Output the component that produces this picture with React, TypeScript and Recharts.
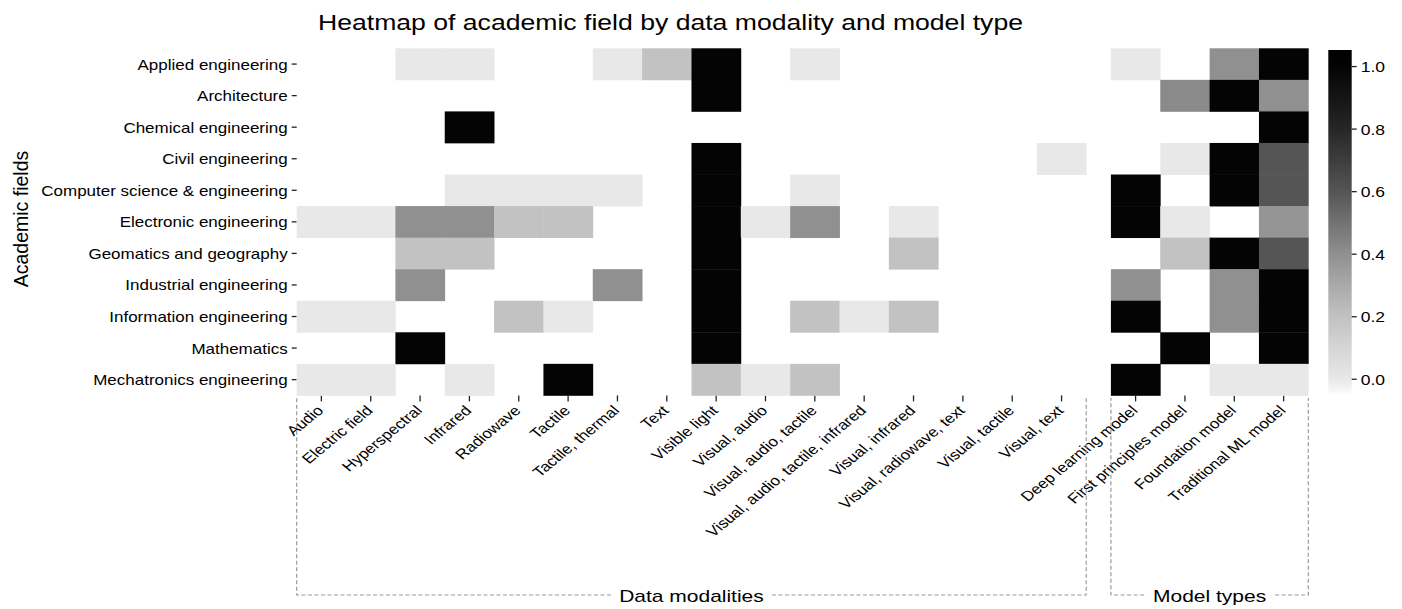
import { ScatterChart, Scatter, XAxis, YAxis } from 'recharts';

// academic fields (rows, top to bottom)
const fields = [
  'Applied engineering',
  'Architecture',
  'Chemical engineering',
  'Civil engineering',
  'Computer science & engineering',
  'Electronic engineering',
  'Geomatics and geography',
  'Industrial engineering',
  'Information engineering',
  'Mathematics',
  'Mechatronics engineering',
];

const modalities = [
  'Audio', 'Electric field', 'Hyperspectral', 'Infrared', 'Radiowave', 'Tactile',
  'Tactile, thermal', 'Text', 'Visible light', 'Visual, audio', 'Visual, audio, tactile',
  'Visual, audio, tactile, infrared', 'Visual, infrared', 'Visual, radiowave, text',
  'Visual, tactile', 'Visual, text',
];

const modelTypes = ['Deep learning model', 'First principles model', 'Foundation model', 'Traditional ML model'];

const N = null;

// one row per field, one value per modality (null = no data)
const modalityValues: (number | null)[][] = [
  [N, N, 0, 0, N, N, 0, 0.2, 1, N, 0, N, N, N, N, N],
  [N, N, N, N, N, N, N, N, 1, N, N, N, N, N, N, N],
  [N, N, N, 1, N, N, N, N, N, N, N, N, N, N, N, N],
  [N, N, N, N, N, N, N, N, 1, N, N, N, N, N, N, 0],
  [N, N, N, 0, 0, 0, 0, N, 1, N, 0, N, N, N, N, N],
  [0, 0, 0.4, 0.4, 0.2, 0.2, N, N, 1, 0, 0.4, N, 0, N, N, N],
  [N, N, 0.2, 0.2, N, N, N, N, 1, N, N, N, 0.2, N, N, N],
  [N, N, 0.4, N, N, N, 0.4, N, 1, N, N, N, N, N, N, N],
  [0, 0, N, N, 0.2, 0, N, N, 1, N, 0.2, 0, 0.2, N, N, N],
  [N, N, 1, N, N, N, N, N, 1, N, N, N, N, N, N, N],
  [0, 0, N, 0, N, 1, N, N, 0.2, 0, 0.2, N, N, N, N, N],
];

// one row per field, one value per model type
const modelValues: (number | null)[][] = [
  [0, N, 0.4, 1],
  [N, 0.42, 1, 0.4],
  [N, N, N, 1],
  [N, 0, 1, 0.6],
  [1, N, 1, 0.6],
  [1, 0, N, 0.38],
  [N, 0.2, 1, 0.6],
  [0.4, N, 0.4, 1],
  [1, N, 0.4, 1],
  [N, 1, N, 1],
  [1, N, 0, 0],
];

const colorbarTicks = [0, 0.2, 0.4, 0.6, 0.8, 1.0];
const V_MIN = -0.043;
const V_MAX = 1.053;

// gray colormap (value -> gray level)
const grayStops: [number, number][] = [
  [-0.045, 250], [0, 232], [0.2, 194], [0.4, 144], [0.6, 85], [0.8, 38], [1.0, 4], [1.06, 0],
];

const grayLevel = (v: number) => {
  if (v <= grayStops[0][0]) return grayStops[0][1];
  for (let i = 1; i < grayStops.length; i++) {
    const [v1, g1] = grayStops[i];
    const [v0, g0] = grayStops[i - 1];
    if (v <= v1) return g0 + ((v - v0) / (v1 - v0)) * (g1 - g0);
  }
  return 0;
};
const gray = (v: number) => {
  const g = Math.round(grayLevel(v));
  return `rgb(${g},${g},${g})`;
};

const W = 1402;
const H = 609;
const PLOT = { left: 296.7, top: 48.3, right: 1308.3, bottom: 395.4 };
const MODEL_OFFSET = 16.5;
const X_SPAN = MODEL_OFFSET + modelTypes.length;
const COL_W = (PLOT.right - PLOT.left) / X_SPAN;
const ROW_H = (PLOT.bottom - PLOT.top) / fields.length;
const FONT = '"Liberation Sans", Arial, sans-serif';
// the reference text looks squashed vertically
const SY = 0.82;

const cells: { x: number; y: number; v: number }[] = [];
fields.forEach((_, r) => {
  modalityValues[r].forEach((v, c) => {
    if (v !== null) cells.push({ x: c + 0.5, y: r + 0.5, v });
  });
  modelValues[r].forEach((v, c) => {
    if (v !== null) cells.push({ x: MODEL_OFFSET + c + 0.5, y: r + 0.5, v });
  });
});

const xTicks = [
  ...modalities.map((_, i) => i + 0.5),
  ...modelTypes.map((_, i) => MODEL_OFFSET + i + 0.5),
];
const xLabel = (t: number) =>
  t < MODEL_OFFSET ? modalities[Math.floor(t)] : modelTypes[Math.floor(t - MODEL_OFFSET)];
const yTicks = fields.map((_, i) => i + 0.5);

const Cell = (props: any) => {
  const { cx, cy, payload } = props;
  return (
    <rect
      x={cx - COL_W / 2}
      y={cy - ROW_H / 2}
      width={COL_W + 0.4}
      height={ROW_H + 0.4}
      fill={gray(payload.v)}
    />
  );
};

// squashed text anchored at (x, y)
const SText = ({ x, y, size, anchor = 'start', rotate = 0, children }: any) => (
  <g transform={`translate(${x},${y}) scale(1,${SY})${rotate ? ` rotate(${rotate})` : ''}`}>
    <text x={0} y={0} textAnchor={anchor} fontSize={size} fontFamily={FONT} fill="#000">
      {children}
    </text>
  </g>
);

const XTick = ({ x, y, payload }: any) => (
  <SText x={x + 3} y={y + 8} size={17} anchor="end" rotate={-45}>
    {xLabel(payload.value)}
  </SText>
);

const YTick = ({ x, y, payload }: any) => (
  <SText x={x} y={y + 5.5} size={17} anchor="end">
    {fields[Math.floor(payload.value)]}
  </SText>
);

// colorbar geometry
const CB = { left: 1328.3, right: 1351.7, top: 50, bottom: 392.7 };
const cbY = (v: number) => CB.bottom - ((v - V_MIN) / (V_MAX - V_MIN)) * (CB.bottom - CB.top);
const gradStops = grayStops.map(([v]) => Math.min(Math.max(v, V_MIN), V_MAX));

const colX = (c: number) => PLOT.left + c * COL_W;
const BRACKET_TOP = 398;
const BRACKET_Y = 595;

const Bracket = ({ x0, x1, label, textW }: { x0: number; x1: number; label: string; textW: number }) => {
  const mid = (x0 + x1) / 2;
  const gap = textW / 2 + 8;
  return (
    <g>
      <path
        d={`M${mid - gap},${BRACKET_Y} H${x0} V${BRACKET_TOP} M${mid + gap},${BRACKET_Y} H${x1} V${BRACKET_TOP}`}
        fill="none"
        stroke="#999"
        strokeWidth={1.2}
        strokeDasharray="4 2.5"
      />
      <SText x={mid} y={BRACKET_Y + 6.5} size={21} anchor="middle">
        {label}
      </SText>
    </g>
  );
};

export default function App() {
  return (
    <div style={{ position: 'absolute', left: 0, top: 0, width: W, height: H, background: '#fff' }}>
      <ScatterChart
        width={W}
        height={H}
        margin={{ top: PLOT.top, right: W - PLOT.right, bottom: 0, left: 0 }}
      >
        <XAxis
          type="number"
          dataKey="x"
          domain={[0, X_SPAN]}
          ticks={xTicks}
          interval={0}
          axisLine={false}
          tickLine={{ stroke: '#222', strokeWidth: 1.3 }}
          tickSize={6}
          height={H - PLOT.bottom}
          tick={<XTick />}
        />
        <YAxis
          type="number"
          dataKey="y"
          domain={[0, fields.length]}
          reversed
          ticks={yTicks}
          interval={0}
          axisLine={false}
          tickLine={{ stroke: '#222', strokeWidth: 1.3 }}
          tickSize={5}
          tickMargin={4}
          width={PLOT.left}
          tick={<YTick />}
        />
        <Scatter data={cells} shape={<Cell />} isAnimationActive={false} />
      </ScatterChart>
      <svg width={W} height={H} style={{ position: 'absolute', left: 0, top: 0, pointerEvents: 'none' }}>
        <defs>
          <linearGradient id="cbar" x1="0" y1="1" x2="0" y2="0">
            {gradStops.map((v, i) => (
              <stop key={i} offset={(v - V_MIN) / (V_MAX - V_MIN)} stopColor={gray(v)} />
            ))}
          </linearGradient>
        </defs>
        <SText x={318} y={30} size={26.6}>
          Heatmap of academic field by data modality and model type
        </SText>
        <g transform={`translate(28,219) rotate(-90)`}>
          <text x={0} y={0} textAnchor="middle" fontSize={19.5} fontFamily={FONT} fill="#000">
            Academic fields
          </text>
        </g>
        <rect x={CB.left} y={CB.top} width={CB.right - CB.left} height={CB.bottom - CB.top} fill="url(#cbar)" />
        {colorbarTicks.map((t) => (
          <g key={t}>
            <line x1={CB.right} x2={CB.right + 5} y1={cbY(t)} y2={cbY(t)} stroke="#222" strokeWidth={1.3} />
            <SText x={CB.right + 9} y={cbY(t) + 5.5} size={17.5}>
              {t.toFixed(1)}
            </SText>
          </g>
        ))}
        <Bracket x0={colX(0)} x1={colX(modalities.length)} label="Data modalities" textW={145} />
        <Bracket x0={colX(MODEL_OFFSET)} x1={colX(X_SPAN)} label="Model types" textW={115} />
      </svg>
    </div>
  );
}
